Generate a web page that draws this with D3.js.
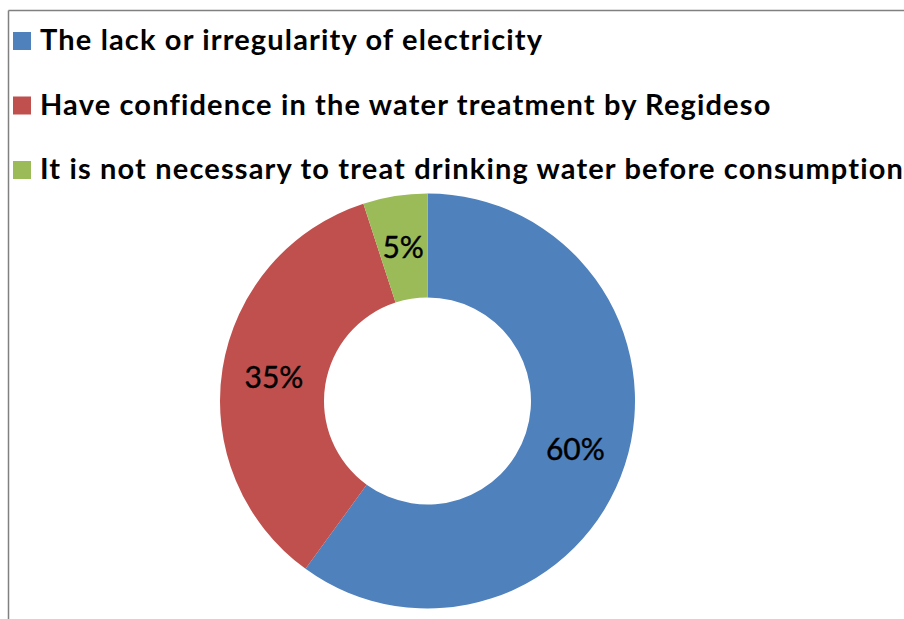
<!DOCTYPE html>
<html>
<head>
<meta charset="utf-8">
<script src="https://cdn.jsdelivr.net/npm/d3@7/dist/d3.min.js"></script>
<style>
  html, body { margin: 0; padding: 0; background: #fff; }
  svg { display: block; }
</style>
</head>
<body>
<svg id="chart" width="904" height="619"></svg>
<script>
// Reasons for not treating drinking water
const categories = [
  "The lack or irregularity of electricity",
  "Have confidence in the water treatment by Regideso",
  "It is not necessary to treat drinking water before consumption"
];
const values = [60, 35, 5];
const colors = ["#4F81BD", "#C0504D", "#9BBB59"];

const width = 904, height = 619;
const svg = d3.select("#chart");

// chart-area frame (left and top edges visible)
svg.append("line").attr("x1", 8.5).attr("y1", 10.5).attr("x2", 8.5).attr("y2", height)
  .attr("stroke", "#808080").attr("stroke-width", 1.5);
svg.append("line").attr("x1", 8.5).attr("y1", 10.5).attr("x2", width).attr("y2", 10.5)
  .attr("stroke", "#808080").attr("stroke-width", 1.5);

// legend
const font = "Lato, 'Open Sans', sans-serif";
const legendY = d3.scalePoint().domain(categories).range([50, 179]);
const legend = svg.append("g");
categories.forEach((c, i) => {
  const y = legendY(c);
  legend.append("rect")
    .attr("x", 13).attr("y", y - 18).attr("width", 18).attr("height", 18)
    .attr("fill", colors[i]);
  legend.append("text")
    .attr("x", 40).attr("y", y)
    .attr("font-family", font)
    .attr("font-weight", "bold")
    .attr("font-size", 29)
    .attr("letter-spacing", 1.15)
    .attr("fill", "#000")
    .text(c);
});

// donut
const cx = 427.5, cy = 401, outerR = 207.5, innerR = 103.5;
const pie = d3.pie().sort(null).value(d => d);
const arc = d3.arc().innerRadius(innerR).outerRadius(outerR);
const g = svg.append("g").attr("transform", `translate(${cx},${cy})`);
const arcs = pie(values);

g.selectAll("path").data(arcs).enter().append("path")
  .attr("d", arc)
  .attr("fill", (d, i) => colors[i]);

g.selectAll("text.lbl").data(arcs).enter().append("text")
  .attr("class", "lbl")
  .attr("x", d => arc.centroid(d)[0])
  .attr("y", d => arc.centroid(d)[1] + 11)
  .attr("text-anchor", "middle")
  .attr("font-family", font)
  .attr("font-size", 30)
  .attr("fill", "#000")
  .attr("stroke", "#000")
  .attr("stroke-width", 0.4)
  .text(d => d.data + "%");
</script>
</body>
</html>
